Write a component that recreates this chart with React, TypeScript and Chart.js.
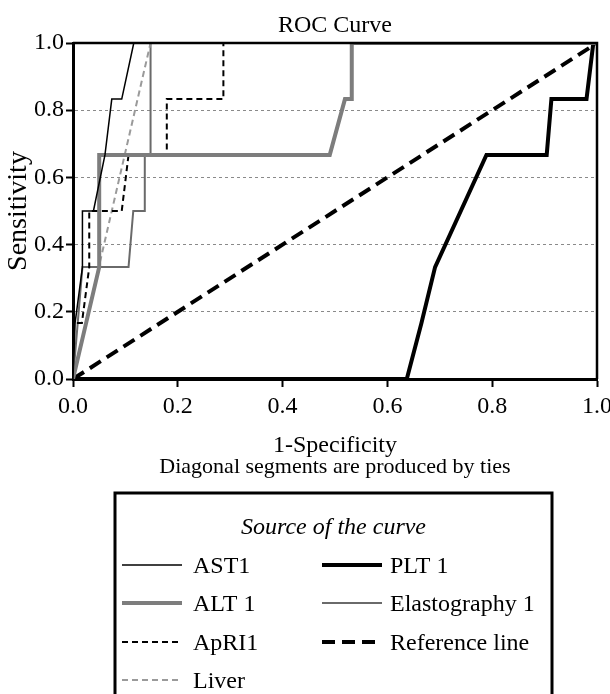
import React, { useEffect, useRef } from 'react';
import { Chart, registerables } from 'chart.js';

Chart.register(...registerables);

const FONT = '"Liberation Serif", "Times New Roman", serif';

const titleText = 'ROC Curve';
const xTitle = '1-Specificity';
const yTitle = 'Sensitivity';
const noteText = 'Diagonal segments are produced by ties';
const legendTitle = 'Source of the curve';

const seriesNames = ['AST1', 'ALT 1', 'ApRI1', 'Liver', 'PLT 1', 'Elastography 1', 'Reference line'];

const ast1X = [0, 0.004, 0.018, 0.018, 0.039, 0.061, 0.074, 0.093, 0.116, 1];
const ast1Y = [0, 0.167, 0.333, 0.5, 0.5, 0.667, 0.833, 0.833, 1, 1];

const alt1X = [0, 0.05, 0.05, 0.49, 0.519, 0.532, 0.532, 1];
const alt1Y = [0, 0.333, 0.667, 0.667, 0.833, 0.833, 1, 1];

const apri1X = [0, 0, 0.017, 0.031, 0.031, 0.093, 0.106, 0.179, 0.179, 0.287, 0.287, 1];
const apri1Y = [0, 0.167, 0.167, 0.333, 0.5, 0.5, 0.667, 0.667, 0.833, 0.833, 1, 1];

const liverX = [0, 0.148, 1];
const liverY = [0, 1, 1];

const plt1X = [0, 0.637, 0.665, 0.691, 0.789, 0.904, 0.913, 0.98, 0.993, 1];
const plt1Y = [0, 0, 0.167, 0.333, 0.667, 0.667, 0.833, 0.833, 1, 1];

const elastoX = [0, 0.018, 0.106, 0.115, 0.137, 0.137, 0.148, 0.148, 1];
const elastoY = [0, 0.333, 0.333, 0.5, 0.5, 0.667, 0.667, 1, 1];

const refX = [0, 1];
const refY = [0, 1];

const seriesX = [ast1X, alt1X, apri1X, liverX, plt1X, elastoX, refX];
const seriesY = [ast1Y, alt1Y, apri1Y, liverY, plt1Y, elastoY, refY];

const seriesColor = ['#000000', '#7d7d7d', '#000000', '#9a9a9a', '#000000', '#6a6a6a', '#000000'];
const seriesWidth = [1.5, 4, 2, 2, 4, 2, 4];
const seriesDash: number[][] = [[], [], [6, 4], [6, 4], [], [], [13, 7]];

const decorPlugin = {
  id: 'rocDecor',
  afterDatasetsDraw(chart: any) {
    const { ctx, chartArea } = chart;
    ctx.save();
    ctx.strokeStyle = '#000';
    ctx.lineWidth = 2.5;
    ctx.setLineDash([]);
    ctx.beginPath();
    ctx.moveTo(chartArea.left, chartArea.top);
    ctx.lineTo(chartArea.right, chartArea.top);
    ctx.lineTo(chartArea.right, chartArea.bottom);
    ctx.stroke();
    ctx.restore();
  },
  afterDraw(chart: any) {
    const { ctx, chartArea } = chart;
    const cx = (chartArea.left + chartArea.right) / 2;
    ctx.save();
    ctx.fillStyle = '#000';
    ctx.textAlign = 'center';
    ctx.textBaseline = 'alphabetic';
    ctx.font = `24px ${FONT}`;
    ctx.fillText(titleText, cx, 32);
    ctx.font = `22px ${FONT}`;
    ctx.fillText(noteText, cx, 473);

    // legend box
    const bx = 115, by = 493, bw = 437, bh = 215;
    ctx.lineWidth = 3;
    ctx.strokeStyle = '#000';
    ctx.strokeRect(bx, by, bw, bh);
    ctx.font = `italic 24px ${FONT}`;
    ctx.fillText(legendTitle, (bx + bx + bw) / 2, 534);

    const ds = chart.data.datasets;
    const rowY = [565, 603, 642, 680];
    const cols = [
      { lx: 122, ex: 182, tx: 193, idx: [0, 1, 2, 3] },
      { lx: 322, ex: 382, tx: 390, idx: [4, 5, 6] },
    ];
    ctx.textAlign = 'left';
    ctx.font = `24px ${FONT}`;
    cols.forEach((c) => {
      c.idx.forEach((di, r) => {
        const d = ds[di];
        const y = rowY[r];
        ctx.save();
        ctx.strokeStyle = d.borderColor;
        ctx.lineWidth = d.borderWidth;
        ctx.setLineDash(d.borderDash || []);
        ctx.beginPath();
        ctx.moveTo(c.lx, y);
        ctx.lineTo(c.ex, y);
        ctx.stroke();
        ctx.restore();
        ctx.fillStyle = '#000';
        ctx.fillText(d.label, c.tx, y + 8);
      });
    });
    ctx.restore();
  },
};

export default function App() {
  const ref = useRef<HTMLCanvasElement | null>(null);
  useEffect(() => {
    if (!ref.current) return;
    const datasets = seriesNames.map((name, i) => ({
      label: name,
      data: seriesX[i].map((x, j) => ({ x, y: seriesY[i][j] })),
      borderColor: seriesColor[i],
      backgroundColor: seriesColor[i],
      borderWidth: seriesWidth[i],
      borderDash: seriesDash[i],
      pointRadius: 0,
      showLine: true,
      fill: false,
      tension: 0,
    }));
    const tickFont = { family: FONT, size: 24 };
    const xH = 81;
    const chart = new Chart(ref.current, {
      type: 'scatter',
      data: { datasets },
      plugins: [decorPlugin],
      options: {
        responsive: false,
        animation: false,
        devicePixelRatio: 1,
        layout: { padding: { top: 43, right: 13, left: 0, bottom: 694 - 379 - xH } },
        plugins: {
          legend: { display: false },
          title: { display: false },
          tooltip: { enabled: false },
        },
        scales: {
          x: {
            type: 'linear',
            min: 0,
            max: 1,
            afterFit: (s: any) => {
              s.height = xH;
              s.paddingLeft = 0;
              s.paddingRight = 0;
            },
            ticks: {
              stepSize: 0.2,
              font: tickFont,
              color: '#000',
              padding: 5,
              maxRotation: 0,
              autoSkip: false,
              callback: (v: any) => Number(v).toFixed(1),
            },
            grid: {
              drawOnChartArea: false,
              drawTicks: true,
              tickLength: 8,
              tickColor: '#000',
              tickWidth: 2,
              color: '#000',
            },
            border: { display: true, color: '#000', width: 3 },
            title: { display: true, text: xTitle, font: tickFont, color: '#000', padding: 0 },
          },
          y: {
            type: 'linear',
            min: 0,
            max: 1,
            afterFit: (s: any) => {
              s.width = 73;
            },
            ticks: {
              stepSize: 0.2,
              font: tickFont,
              color: '#000',
              padding: 2,
              callback: (v: any) => Number(v).toFixed(1),
            },
            grid: {
              drawOnChartArea: true,
              drawTicks: true,
              tickLength: 7,
              tickColor: '#000',
              tickWidth: 2,
              lineWidth: 1,
              color: (c: any) => {
                const v = c.tick ? c.tick.value : 0;
                return v > 0.01 && v < 0.99 ? '#8a8a8a' : 'rgba(0,0,0,0)';
              },
            },
            border: { display: true, color: '#000', width: 3, dash: [3, 3] },
            title: {
              display: true,
              text: yTitle,
              font: { family: FONT, size: 28 },
              color: '#000',
              padding: { top: 2, bottom: 0 },
            },
          },
        },
      } as any,
    });
    return () => chart.destroy();
  }, []);
  return (
    <div style={{ position: 'absolute', left: 0, top: 0, width: 610, height: 694, background: '#fff' }}>
      <canvas ref={ref} width={610} height={694} />
    </div>
  );
}
